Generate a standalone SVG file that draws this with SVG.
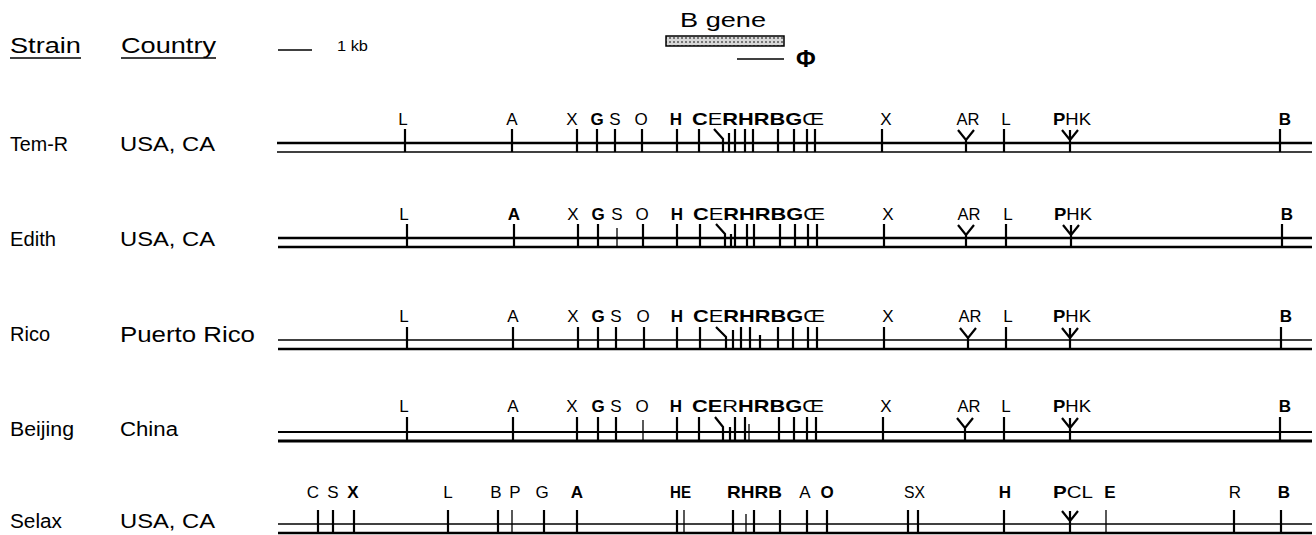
<svg xmlns="http://www.w3.org/2000/svg" width="1316" height="535" viewBox="0 0 1316 535">
  <style>
    text { font-family: "Liberation Sans", Arial, Helvetica, sans-serif; fill: #000; }
    .hd { font-size: 22px; }
    .nm { font-size: 20px; }
    .site { font-size: 17px; }
    .b { font-weight: bold; }
    .ln { stroke: #000; fill: none; }
    .tk { stroke: #000; stroke-width: 2.2; fill: none; }
    .thin { stroke-width: 1.3; }
  </style>
  <defs>
    <pattern id="stip" width="4" height="4" patternUnits="userSpaceOnUse">
      <rect width="4" height="4" fill="#d8d8d8"/>
      <circle cx="2" cy="2" r="1" fill="#555"/>
    </pattern>
  </defs>
  <rect width="1316" height="535" fill="#fff"/>

  <!-- column headings and scale -->
  <g id="header">
    <text class="hd" x="10" y="53" textLength="71" lengthAdjust="spacingAndGlyphs">Strain</text>
    <line class="ln" x1="10" y1="58" x2="81" y2="58" stroke-width="1.5"/>
    <text class="hd" x="121" y="53" textLength="95" lengthAdjust="spacingAndGlyphs">Country</text>
    <line class="ln" x1="121" y1="58" x2="216" y2="58" stroke-width="1.5"/>
    <line class="ln" x1="278" y1="50" x2="312" y2="50" stroke-width="1.5"/>
    <text x="337" y="51" font-size="15" textLength="31" lengthAdjust="spacingAndGlyphs">1 kb</text>
  </g>

  <!-- B gene and probe -->
  <g id="bgene">
    <text x="680" y="27" font-size="21" textLength="86" lengthAdjust="spacingAndGlyphs">B  gene</text>
    <rect x="666" y="36" width="118" height="10" fill="url(#stip)" stroke="#000" stroke-width="1.5"/>
    <line class="ln" x1="737" y1="59" x2="784" y2="59" stroke-width="1.5"/>
    <text x="796" y="67" font-size="24" font-family="Liberation Serif, serif" font-weight="bold">Φ</text>
  </g>

  <!-- Tem-R -->
  <g id="row-temr">
    <text class="nm" x="10" y="151" textLength="58" lengthAdjust="spacingAndGlyphs">Tem-R</text>
    <text class="nm" x="120" y="151" textLength="95" lengthAdjust="spacingAndGlyphs">USA, CA</text>
    <line class="ln" x1="277" y1="143" x2="1312" y2="143" stroke-width="2.5"/>
    <line class="ln" x1="277" y1="152" x2="1312" y2="152" stroke-width="1.5"/>
    <g class="site" text-anchor="middle">
      <text x="403" y="125">L</text>
      <text x="512" y="125">A</text>
      <text x="572" y="125">X</text>
      <text x="597" y="125" class="b">G</text>
      <text x="615" y="125">S</text>
      <text x="641" y="125">O</text>
      <text x="676" y="125" class="b">H</text>
      <text x="886" y="125">X</text>
      <text x="968" y="125" textLength="23" lengthAdjust="spacingAndGlyphs">AR</text>
      <text x="1006" y="125">L</text>
      <text x="1285" y="125" class="b">B</text>
    </g>
    <text class="site" x="692" y="125" textLength="132" lengthAdjust="spacingAndGlyphs"><tspan class="b">C</tspan>E<tspan class="b">RHRBG</tspan>Œ</text>
    <text class="site" x="1053" y="125" textLength="38" lengthAdjust="spacingAndGlyphs"><tspan class="b">P</tspan>HK</text>
    <path class="tk" d="M405,129V152M512,129V152M577,129V152M597,129V152M615,129V152M642,129V152M677,129V152M699,129V152M714,129L723,139V152M729,133V152M735,129V152M745,129V152M753,129V152M778,129V152M794,129V152M807,129V152M815,129V152M882,129V152M1004,129V152M1280,129V152"/>
    <path class="tk" d="M958,130L966,140L974,130M966,140V152"/>
    <path class="tk" d="M1062,130L1070,140L1078,130M1070,130V152"/>
  </g>

  <!-- Edith -->
  <g id="row-edith">
    <text class="nm" x="10" y="246" textLength="46" lengthAdjust="spacingAndGlyphs">Edith</text>
    <text class="nm" x="120" y="246" textLength="95" lengthAdjust="spacingAndGlyphs">USA, CA</text>
    <line class="ln" x1="278" y1="238" x2="1312" y2="238" stroke-width="2.3"/>
    <line class="ln" x1="278" y1="247" x2="1312" y2="247" stroke-width="2.3"/>
    <g class="site" text-anchor="middle">
      <text x="404" y="220">L</text>
      <text x="514" y="220" class="b">A</text>
      <text x="573" y="220">X</text>
      <text x="598" y="220" class="b">G</text>
      <text x="617" y="220">S</text>
      <text x="642" y="220">O</text>
      <text x="677" y="220" class="b">H</text>
      <text x="888" y="220">X</text>
      <text x="969" y="220" textLength="23" lengthAdjust="spacingAndGlyphs">AR</text>
      <text x="1008" y="220">L</text>
      <text x="1287" y="220" class="b">B</text>
    </g>
    <text class="site" x="693" y="220" textLength="132" lengthAdjust="spacingAndGlyphs"><tspan class="b">C</tspan>E<tspan class="b">RHRBG</tspan>Œ</text>
    <text class="site" x="1054" y="220" textLength="38" lengthAdjust="spacingAndGlyphs"><tspan class="b">P</tspan>HK</text>
    <path class="tk" d="M407,224V247M514,224V247M578,224V247M598,224V247M643,224V247M677,224V247M700,224V247M716,224L725,234V247M731,234V247M735,224V247M747,224V247M754,224V247M780,224V247M795,224V247M808,224V247M817,224V247M884,224V247M1006,224V247M1282,224V247"/>
    <path class="tk thin" d="M617,228V247"/>
    <path class="tk" d="M958,225L966,235L974,225M966,235V247"/>
    <path class="tk" d="M1063,225L1071,235L1079,225M1071,225V247"/>
  </g>

  <!-- Rico -->
  <g id="row-rico">
    <text class="nm" x="10" y="341" textLength="40" lengthAdjust="spacingAndGlyphs">Rico</text>
    <text x="120" y="342" font-size="22" textLength="135" lengthAdjust="spacingAndGlyphs">Puerto Rico</text>
    <line class="ln" x1="278" y1="340" x2="1312" y2="340" stroke-width="1.5"/>
    <line class="ln" x1="278" y1="349" x2="1312" y2="349" stroke-width="2.5"/>
    <g class="site" text-anchor="middle">
      <text x="404" y="322">L</text>
      <text x="513" y="322">A</text>
      <text x="573" y="322">X</text>
      <text x="598" y="322" class="b">G</text>
      <text x="616" y="322">S</text>
      <text x="643" y="322">O</text>
      <text x="677" y="322" class="b">H</text>
      <text x="888" y="322">X</text>
      <text x="970" y="322" textLength="23" lengthAdjust="spacingAndGlyphs">AR</text>
      <text x="1008" y="322">L</text>
      <text x="1286" y="322" class="b">B</text>
    </g>
    <text class="site" x="693" y="322" textLength="132" lengthAdjust="spacingAndGlyphs"><tspan class="b">C</tspan>E<tspan class="b">RHRBG</tspan>Œ</text>
    <text class="site" x="1053" y="322" textLength="38" lengthAdjust="spacingAndGlyphs"><tspan class="b">P</tspan>HK</text>
    <path class="tk" d="M407,327V349M513,327V349M578,327V349M598,327V349M616,327V349M644,327V349M677,327V349M700,327V349M716,327L726,337V349M733,330V349M741,327V349M750,327V349M760,335V349M778,327V349M793,327V349M808,327V349M817,327V349M884,327V349M1006,327V349M1281,327V349"/>
    <path class="tk" d="M960,328L968,338L976,328M968,338V349"/>
    <path class="tk" d="M1062,328L1070,338L1078,328M1070,328V349"/>
  </g>

  <!-- Beijing -->
  <g id="row-beijing">
    <text class="nm" x="10" y="436" textLength="64" lengthAdjust="spacingAndGlyphs">Beijing</text>
    <text class="nm" x="120" y="436" textLength="58" lengthAdjust="spacingAndGlyphs">China</text>
    <line class="ln" x1="278" y1="432" x2="1312" y2="432" stroke-width="1.8"/>
    <line class="ln" x1="278" y1="441" x2="1312" y2="441" stroke-width="2.8"/>
    <g class="site" text-anchor="middle">
      <text x="404" y="412">L</text>
      <text x="513" y="412">A</text>
      <text x="572" y="412">X</text>
      <text x="598" y="412" class="b">G</text>
      <text x="616" y="412">S</text>
      <text x="642" y="412">O</text>
      <text x="676" y="412" class="b">H</text>
      <text x="886" y="412">X</text>
      <text x="969" y="412" textLength="23" lengthAdjust="spacingAndGlyphs">AR</text>
      <text x="1006" y="412">L</text>
      <text x="1285" y="412" class="b">B</text>
    </g>
    <text class="site" x="692" y="412" textLength="132" lengthAdjust="spacingAndGlyphs"><tspan class="b">CE</tspan>R<tspan class="b">HRBG</tspan>Œ</text>
    <text class="site" x="1053" y="412" textLength="38" lengthAdjust="spacingAndGlyphs"><tspan class="b">P</tspan>HK</text>
    <path class="tk" d="M407,417V441M513,417V441M577,417V441M598,417V441M616,417V441M677,417V441M699,417V441M715,417L723,427V441M730,427V441M735,417V441M745,417V441M779,417V441M794,417V441M807,417V441M816,417V441M883,417V441M1004,417V441M1280,417V441"/>
    <path class="tk thin" d="M643,420V441M749,424V441"/>
    <path class="tk" d="M957,418L965,428L973,418M965,428V441"/>
    <path class="tk" d="M1062,418L1070,428L1078,418M1070,418V441"/>
  </g>

  <!-- Selax -->
  <g id="row-selax">
    <text class="nm" x="10" y="528" textLength="52" lengthAdjust="spacingAndGlyphs">Selax</text>
    <text class="nm" x="120" y="528" textLength="95" lengthAdjust="spacingAndGlyphs">USA, CA</text>
    <line class="ln" x1="278" y1="524" x2="1312" y2="524" stroke-width="1.5"/>
    <line class="ln" x1="278" y1="533" x2="1312" y2="533" stroke-width="2.5"/>
    <g class="site" text-anchor="middle">
      <text x="313" y="498">C</text>
      <text x="333" y="498">S</text>
      <text x="353" y="498" class="b">X</text>
      <text x="448" y="498">L</text>
      <text x="496" y="498">B</text>
      <text x="515" y="498">P</text>
      <text x="542" y="498">G</text>
      <text x="577" y="498" class="b">A</text>
      <text x="805" y="498">A</text>
      <text x="827" y="498" class="b">O</text>
      <text x="1005" y="498" class="b">H</text>
      <text x="1110" y="498" class="b">E</text>
      <text x="1235" y="498">R</text>
      <text x="1284" y="498" class="b">B</text>
    </g>
    <text class="site b" x="670" y="498" textLength="21" lengthAdjust="spacingAndGlyphs">HE</text>
    <text class="site b" x="727" y="498" textLength="55" lengthAdjust="spacingAndGlyphs">RHRB</text>
    <text class="site" x="904" y="498" textLength="21" lengthAdjust="spacingAndGlyphs">SX</text>
    <text class="site" x="1053" y="498" textLength="40" lengthAdjust="spacingAndGlyphs"><tspan class="b">P</tspan>CL</text>
    <path class="tk" d="M318,510V533M333,510V533M354,510V533M448,510V533M498,510V533M544,510V533M577,510V533M677,510V533M733,510V533M754,510V533M780,510V533M807,510V533M827,510V533M908,510V533M918,510V533M1004,510V533M1234,510V533M1281,510V533"/>
    <path class="tk thin" d="M512,510V533M684,510V533M746,514V533M1106,510V533"/>
    <path class="tk" d="M1062,511L1070,521L1078,511M1070,511V533"/>
  </g>
</svg>
